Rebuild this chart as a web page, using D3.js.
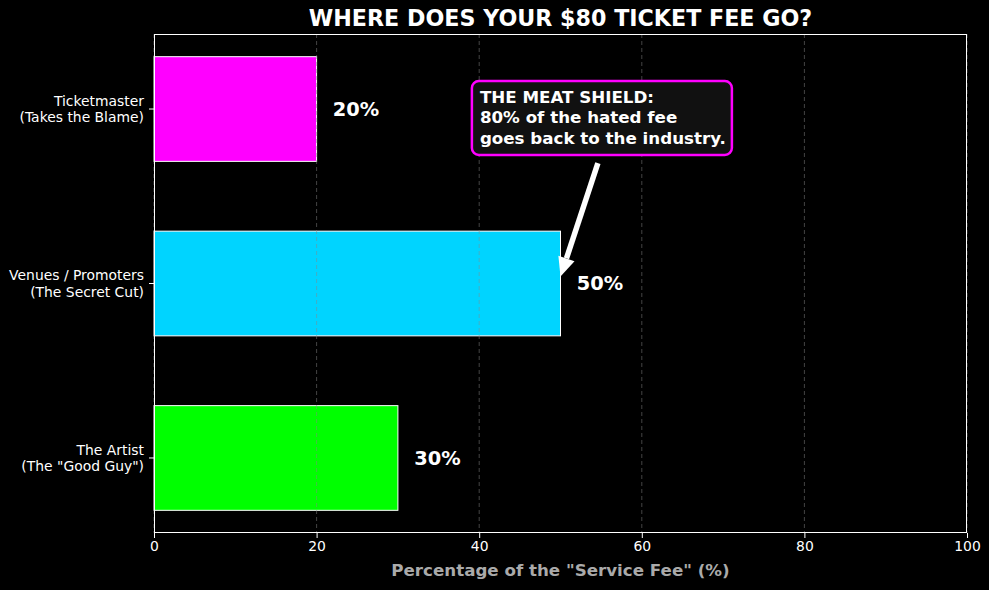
<!DOCTYPE html>
<html>
<head>
<meta charset="utf-8">
<script src="https://cdn.jsdelivr.net/npm/d3@7"></script>
<style>
  body { margin: 0; background: #000; }
  svg { display: block; font-family: "DejaVu Sans", sans-serif; }
</style>
</head>
<body>
<div id="chart"></div>
<script>
// data, bottom to top as matplotlib barh draws it
const categories = ["The Artist\n(The \"Good Guy\")", "Venues / Promoters\n(The Secret Cut)", "Ticketmaster\n(Takes the Blame)"];
const shares = [30, 50, 20];
const barColors = ["#00ff00", "#00d4ff", "#ff00ff"];
const xTicks = [0, 20, 40, 60, 80, 100];
const noteLines = ["THE MEAT SHIELD:", "80% of the hated fee", "goes back to the industry."];

const width = 989, height = 590;
const margin = { top: 34, right: 22, bottom: 57, left: 154 };

const svg = d3.select("#chart").append("svg")
    .attr("width", width)
    .attr("height", height)
    .style("background", "#000");

const x = d3.scaleLinear().domain([0, 100]).range([margin.left, width - margin.right]);
// matplotlib: bars span -0.3..2.3, plus 5% margin
const y = d3.scaleLinear().domain([-0.43, 2.43]).range([height - margin.bottom, margin.top]);
const barH = y(0) - y(0.6);

// bars
svg.append("g").selectAll("rect")
    .data(shares)
    .join("rect")
    .attr("x", x(0))
    .attr("y", (d, i) => y(i + 0.3))
    .attr("width", d => x(d) - x(0))
    .attr("height", barH)
    .attr("fill", (d, i) => barColors[i])
    .attr("stroke", "#fff")
    .attr("stroke-width", 1);

// grid (dashed, drawn on top with alpha)
svg.append("g").selectAll("line")
    .data(xTicks)
    .join("line")
    .attr("x1", d => x(d)).attr("x2", d => x(d))
    .attr("y1", margin.top).attr("y2", height - margin.bottom)
    .attr("stroke", "#888")
    .attr("stroke-opacity", 0.5)
    .attr("stroke-dasharray", "4,3");

// value labels
svg.append("g").selectAll("text")
    .data(shares)
    .join("text")
    .attr("x", d => x(d + 2))
    .attr("y", (d, i) => y(i))
    .attr("dy", "0.36em")
    .attr("fill", "#fff")
    .attr("font-size", "19.4px")
    .attr("font-weight", "bold")
    .text(d => d + "%");

// frame (half-pixel offset keeps the 1px line crisp)
svg.append("rect")
    .attr("x", margin.left + 0.5).attr("y", margin.top + 0.5)
    .attr("width", width - margin.left - margin.right - 1)
    .attr("height", height - margin.top - margin.bottom - 1)
    .attr("fill", "none")
    .attr("stroke", "#fff")
    .attr("stroke-width", 1);

// x axis
const xAxis = svg.append("g")
    .attr("transform", `translate(0,${height - margin.bottom})`)
    .call(d3.axisBottom(x).tickValues(xTicks).tickSize(5).tickPadding(3));
xAxis.select(".domain").remove();
xAxis.selectAll("line").attr("stroke", "#fff");
xAxis.selectAll("text").attr("fill", "#fff").attr("font-size", "13.9px").attr("font-family", "DejaVu Sans");

// y axis
const yAxis = svg.append("g").attr("transform", `translate(${margin.left},0)`);
categories.forEach((c, i) => {
    yAxis.append("line")
        .attr("x1", -5).attr("x2", 0)
        .attr("y1", y(i)).attr("y2", y(i))
        .attr("stroke", "#fff");
    const t = yAxis.append("text")
        .attr("x", -10)
        .attr("y", y(i))
        .attr("text-anchor", "end")
        .attr("fill", "#fff")
        .attr("font-size", "13.9px");
    const lines = c.split("\n");
    lines.forEach((l, k) => {
        t.append("tspan")
            .attr("x", -10)
            .attr("y", y(i) + (k - (lines.length - 1) / 2) * 16.5 + 5)
            .text(l);
    });
});

// title and axis label
svg.append("text")
    .attr("x", (margin.left + width - margin.right) / 2)
    .attr("y", 26)
    .attr("text-anchor", "middle")
    .attr("fill", "#fff")
    .attr("font-size", "22.2px")
    .attr("font-weight", "bold")
    .text("WHERE DOES YOUR $80 TICKET FEE GO?");

svg.append("text")
    .attr("x", (margin.left + width - margin.right) / 2)
    .attr("y", 576)
    .attr("text-anchor", "middle")
    .attr("fill", "#aaaaaa")
    .attr("font-size", "16.7px")
    .attr("font-weight", "bold")
    .text("Percentage of the \"Service Fee\" (%)");

// annotation arrow
const tail = [x(54.6), y(1.69)];
const tip = [x(50), y(1.04)];
const ang = Math.atan2(tip[1] - tail[1], tip[0] - tail[0]);
const headLen = 19, headW = 8.5;
const base = [tip[0] - headLen * Math.cos(ang), tip[1] - headLen * Math.sin(ang)];
svg.append("line")
    .attr("x1", tail[0]).attr("y1", tail[1])
    .attr("x2", base[0]).attr("y2", base[1])
    .attr("stroke", "#fff")
    .attr("stroke-width", 5.5);
svg.append("path")
    .attr("d", d3.line()([
        tip,
        [base[0] + headW * Math.sin(ang), base[1] - headW * Math.cos(ang)],
        [base[0] - headW * Math.sin(ang), base[1] + headW * Math.cos(ang)]
    ]) + "Z")
    .attr("fill", "#fff");

// annotation box
const boxX = x(39.1), boxY = 81;
svg.append("rect")
    .attr("x", boxX).attr("y", boxY)
    .attr("width", 260).attr("height", 74)
    .attr("rx", 7)
    .attr("fill", "#111")
    .attr("stroke", "#ff00ff")
    .attr("stroke-width", 2.5);
svg.append("g").selectAll("text")
    .data(noteLines)
    .join("text")
    .attr("x", boxX + 8)
    .attr("y", (d, i) => boxY + 22 + i * 20.3)
    .attr("fill", "#fff")
    .attr("font-size", "16.7px")
    .attr("font-weight", "bold")
    .text(d => d);
</script>
</body>
</html>
